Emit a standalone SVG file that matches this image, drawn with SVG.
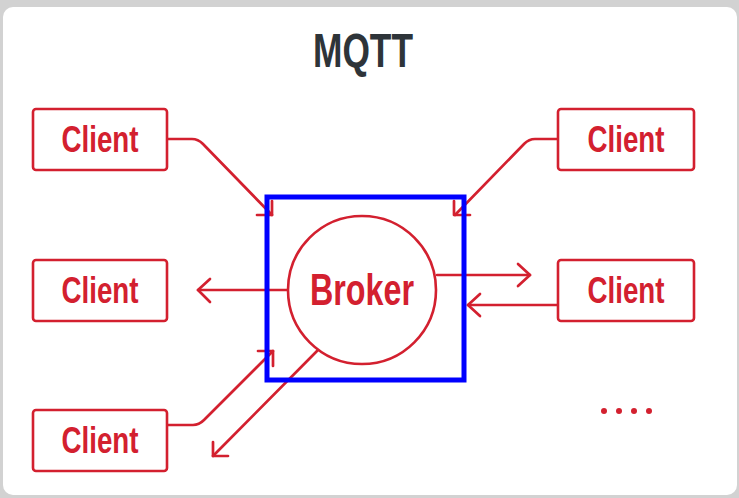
<svg xmlns="http://www.w3.org/2000/svg" width="739" height="498" viewBox="0 0 739 498">
  <style>
    .box { fill: #ffffff; stroke: #d3202f; stroke-width: 2.6; }
    .lbl { font-family: "Liberation Sans", Arial, sans-serif; font-weight: bold; fill: #d3202f; text-anchor: middle; }
    .wire { fill: none; stroke: #d3202f; stroke-width: 2.7; stroke-linecap: round; stroke-linejoin: round; }
    .dot { fill: #d3202f; }
  </style>

  <!-- page backdrop and card -->
  <rect x="0" y="0" width="739" height="498" fill="#d2d2d2"/>
  <rect x="3" y="7" width="734" height="488" rx="10" fill="#ffffff"/>

  <text x="363" y="67" font-family="'Liberation Sans', Arial, sans-serif" font-weight="bold" font-size="48" fill="#2e3439" text-anchor="middle" textLength="100" lengthAdjust="spacingAndGlyphs">MQTT</text>

  <!-- connectors -->
  <g id="connectors">
    <!-- top-left client to broker -->
    <path class="wire" d="M167,139 H192 Q198,139 203,144 L272,215"/>
    <path class="wire" d="M257,215 H272 V201"/>
    <!-- top-right client to broker -->
    <path class="wire" d="M558,139 H535 Q529,139 524,144 L455,215"/>
    <path class="wire" d="M470,215 H454 V201"/>
    <!-- broker to left-middle client -->
    <path class="wire" d="M288,290 H198"/>
    <path class="wire" d="M210,279 L198,290 L210,302"/>
    <!-- broker to right-middle client -->
    <path class="wire" d="M437,275 H530"/>
    <path class="wire" d="M518,264 L530,275 L518,286"/>
    <!-- right-middle client to broker -->
    <path class="wire" d="M558,305 H468"/>
    <path class="wire" d="M480,294 L468,305 L480,316"/>
    <!-- bottom-left client to broker -->
    <path class="wire" d="M167,425 H193 Q199,425 204,420 L273,351"/>
    <path class="wire" d="M258,351 H273 V366"/>
    <!-- broker out towards the lower left -->
    <path class="wire" d="M318,350 L213,456"/>
    <path class="wire" d="M213,442 V456 H228"/>
  </g>

  <g id="broker">
    <circle cx="362" cy="290" r="74" class="box"/>
    <text class="lbl" x="362" y="305" font-size="44" textLength="104" lengthAdjust="spacingAndGlyphs">Broker</text>
  </g>

  <g id="client-top-left">
    <rect class="box" x="33" y="109" width="134" height="61" rx="3"/>
    <text class="lbl" x="100" y="152" font-size="37" textLength="77" lengthAdjust="spacingAndGlyphs">Client</text>
  </g>
  <g id="client-mid-left">
    <rect class="box" x="33" y="260" width="134" height="61" rx="3"/>
    <text class="lbl" x="100" y="303" font-size="37" textLength="77" lengthAdjust="spacingAndGlyphs">Client</text>
  </g>
  <g id="client-bottom-left">
    <rect class="box" x="33" y="410" width="134" height="61" rx="3"/>
    <text class="lbl" x="100" y="453" font-size="37" textLength="77" lengthAdjust="spacingAndGlyphs">Client</text>
  </g>
  <g id="client-top-right">
    <rect class="box" x="558" y="109" width="136" height="61" rx="3"/>
    <text class="lbl" x="626" y="152" font-size="37" textLength="77" lengthAdjust="spacingAndGlyphs">Client</text>
  </g>
  <g id="client-mid-right">
    <rect class="box" x="558" y="260" width="136" height="61" rx="3"/>
    <text class="lbl" x="626" y="303" font-size="37" textLength="77" lengthAdjust="spacingAndGlyphs">Client</text>
  </g>

  <g id="more-clients">
    <circle class="dot" cx="604" cy="411" r="3"/>
    <circle class="dot" cx="619" cy="411" r="3"/>
    <circle class="dot" cx="634" cy="411" r="3"/>
    <circle class="dot" cx="649" cy="411" r="3"/>
  </g>

  <!-- selection frame -->
  <rect x="267" y="197" width="197" height="183" fill="none" stroke="#0000ff" stroke-width="5"/>
</svg>
